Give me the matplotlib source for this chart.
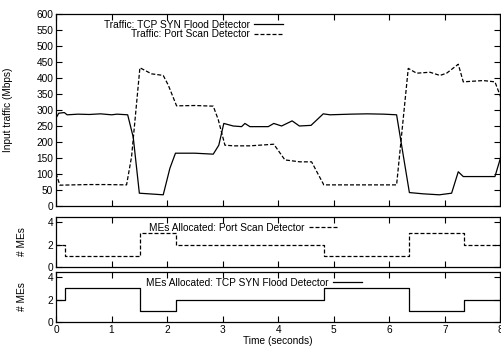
import matplotlib
matplotlib.use("Agg")
import matplotlib.pyplot as plt

plt.rcParams['font.family'] = ['Liberation Sans', 'DejaVu Sans']

# Traffic: TCP SYN Flood Detector (solid)
syn_t = [0, 0.05, 0.15, 0.2, 0.4, 0.6, 0.8, 1.0, 1.1, 1.29, 1.39, 1.5, 1.93, 2.05, 2.15,
         2.5, 2.83, 2.93, 3.02, 3.19, 3.34, 3.40, 3.49, 3.82, 3.92, 4.06, 4.25, 4.38, 4.59,
         4.81, 4.93, 5.3, 5.6, 5.9, 6.13, 6.36, 6.61, 6.9, 7.12, 7.24, 7.33, 7.6, 7.9, 8.0]
syn_v = [275, 290, 292, 285, 287, 286, 288, 285, 287, 285, 215, 40, 35, 118, 165,
         165, 162, 190, 258, 250, 248, 258, 248, 248, 258, 250, 266, 250, 252,
         288, 285, 287, 288, 287, 285, 42, 38, 35, 40, 107, 92, 92, 92, 150]

# Traffic: Port Scan Detector (dashed)
port_t = [0, 0.07, 0.3, 0.6, 0.9, 1.27, 1.36, 1.51, 1.72, 1.93, 2.02, 2.17, 2.5, 2.83,
          2.92, 3.04, 3.2, 3.49, 3.92, 4.12, 4.39, 4.6, 4.82, 5.2, 5.6, 6.13, 6.34, 6.49,
          6.73, 6.91, 7.03, 7.24, 7.33, 7.69, 7.9, 8.0]
port_v = [102, 65, 66, 67, 67, 66, 154, 432, 413, 408, 378, 313, 314, 312,
          270, 190, 188, 188, 193, 144, 138, 138, 66, 66, 66, 66, 430, 415,
          418, 408, 415, 443, 388, 392, 388, 342]

# MEs allocated (step changes)
me_t = [0, 0.16, 1.51, 2.16, 4.82, 6.35, 7.34, 8.0]
me_port = [2, 1, 3, 2, 1, 3, 2, 2]
me_syn = [2, 3, 1, 2, 3, 1, 2, 2]

x_ticks = [0, 1, 2, 3, 4, 5, 6, 7, 8]
traffic_ticks = list(range(0, 601, 50))
me_ticks = [0, 2, 4]

W, H = 502, 351
fig = plt.figure(figsize=(W / 100, H / 100), dpi=100)
L, R = 56 / W, 500.5 / W

def axes_px(top, bottom):
    return fig.add_axes([L, 1 - bottom / H, R - L, (bottom - top) / H])

ax1 = axes_px(14, 206)
ax2 = axes_px(217, 267)
ax3 = axes_px(272, 322)

fs = 7.3
dash = (3.2, 1.6)
lw = 0.9

ax1.plot(syn_t, syn_v, color='black', lw=lw, label='Traffic: TCP SYN Flood Detector')
ax1.plot(port_t, port_v, color='black', lw=lw, dashes=dash, label='Traffic: Port Scan Detector')
ax1.set_ylim(0, 600)
ax1.set_yticks(traffic_ticks)
ax1.set_ylabel('Input traffic (Mbps)', fontsize=fs)
ax1.yaxis.set_label_coords((13 - 56) / 444.5, 0.5)

ax2.step(me_t, me_port, where='post', color='black', lw=lw, dashes=dash,
         label='MEs Allocated: Port Scan Detector')
ax3.step(me_t, me_syn, where='post', color='black', lw=lw,
         label='MEs Allocated: TCP SYN Flood Detector')
for ax in (ax2, ax3):
    ax.set_ylim(0, 4.45)
    ax.set_yticks(me_ticks)
    ax.set_ylabel('# MEs', fontsize=fs)
    ax.yaxis.set_label_coords((27 - 56) / 444.5, 0.5)

for ax in (ax1, ax2, ax3):
    ax.set_xlim(0, 8)
    ax.set_xticks(x_ticks)
    ax.tick_params(direction='in', top=True, right=True, labelsize=fs, length=4,
                   width=0.8, pad=2)
    for s in ax.spines.values():
        s.set_linewidth(0.9)
for ax in (ax1, ax2):
    ax.tick_params(labelbottom=False)

ax3.set_xlabel('Time (seconds)', fontsize=fs, labelpad=1)

def leg(ax, right_px, top_px):
    ax.legend(loc='upper right', bbox_to_anchor=(right_px / W, 1 - top_px / H),
              bbox_transform=fig.transFigure, frameon=False, markerfirst=False,
              fontsize=fs, borderpad=0, borderaxespad=0, handlelength=2.85,
              handletextpad=0.45, labelspacing=-0.05)

leg(ax1, 283, 20)
leg(ax2, 338, 223)
leg(ax3, 362, 278)

fig.savefig('out.png', dpi=100)
